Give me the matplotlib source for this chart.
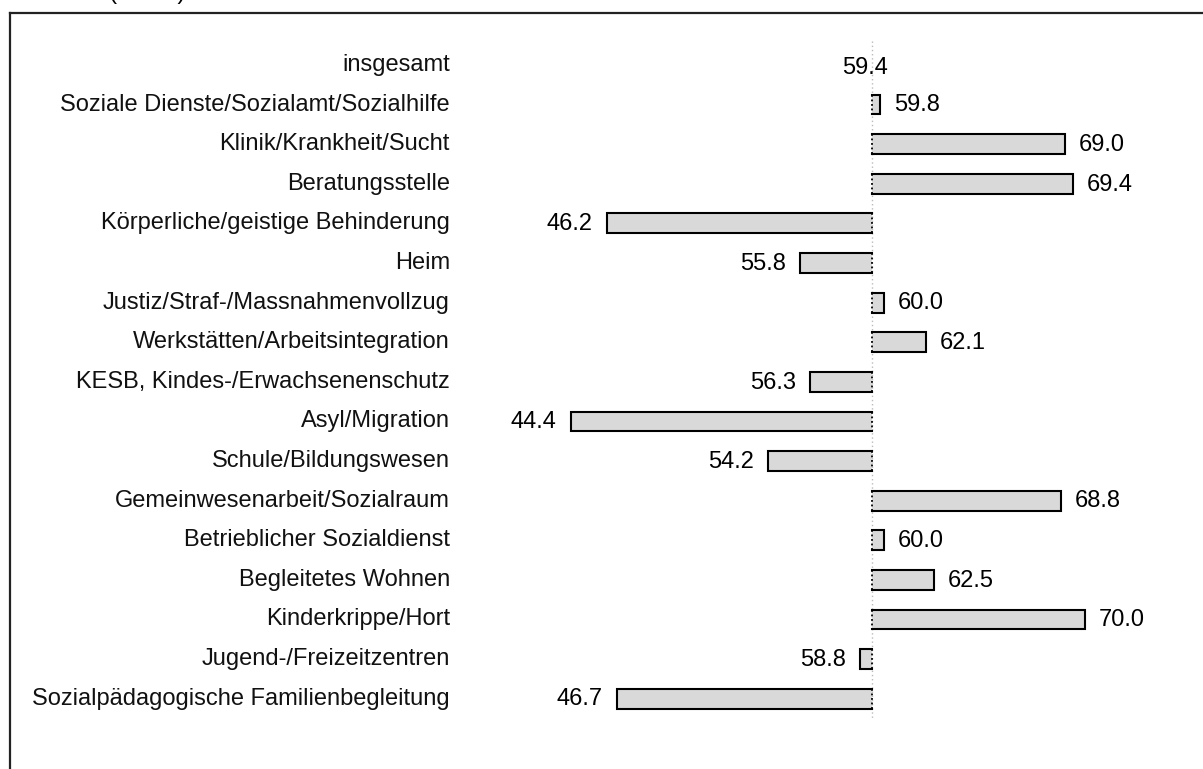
import matplotlib
matplotlib.use("Agg")
import matplotlib.pyplot as plt

categories = [
    "insgesamt",
    "Soziale Dienste/Sozialamt/Sozialhilfe",
    "Klinik/Krankheit/Sucht",
    "Beratungsstelle",
    "Körperliche/geistige Behinderung",
    "Heim",
    "Justiz/Straf-/Massnahmenvollzug",
    "Werkstätten/Arbeitsintegration",
    "KESB, Kindes-/Erwachsenenschutz",
    "Asyl/Migration",
    "Schule/Bildungswesen",
    "Gemeinwesenarbeit/Sozialraum",
    "Betrieblicher Sozialdienst",
    "Begleitetes Wohnen",
    "Kinderkrippe/Hort",
    "Jugend-/Freizeitzentren",
    "Sozialpädagogische Familienbegleitung",
]
values = [59.4, 59.8, 69.0, 69.4, 46.2, 55.8, 60.0, 62.1, 56.3, 44.4, 54.2,
          68.8, 60.0, 62.5, 70.0, 58.8, 46.7]
reference = 59.4

plt.rcParams['font.family'] = ['Liberation Sans', 'DejaVu Sans']
FS = 17

W, H = 1203, 769
fig = plt.figure(figsize=(W / 100, H / 100), dpi=100)

# axes placed in pixel terms; frame runs off right and bottom edges
ax_left_px, ax_right_px = 10, 1230
ax_top_px, ax_bot_px = 13, 800
ax = fig.add_axes([ax_left_px / W, 1 - ax_bot_px / H,
                   (ax_right_px - ax_left_px) / W, (ax_bot_px - ax_top_px) / H])

ref_px, px_per_unit = 872, 20.08
ax.set_xlim(reference + (ax_left_px - ref_px) / px_per_unit,
            reference + (ax_right_px - ref_px) / px_per_unit)
row0_px, row_step = 65, 39.6
ax.set_ylim((ax_bot_px - row0_px) / row_step, (ax_top_px - row0_px) / row_step)

for s in ['right', 'bottom']:
    ax.spines[s].set_visible(False)
for s in ['left', 'top']:
    ax.spines[s].set_linewidth(1.6)
    ax.spines[s].set_color('#222222')
ax.set_xticks([])
ax.set_yticks([])

n = len(categories)
ax.plot([reference, reference], [-0.6, n - 0.5], ls=(0, (1, 2)), color='#bbbbbb', lw=1.0, zorder=1)

bh = 0.5
label_x = reference + (450 - ref_px) / px_per_unit
gap = 14 / px_per_unit
for i, (cat, v) in enumerate(zip(categories, values)):
    ax.text(label_x, i, cat, ha='right', va='center', fontsize=FS, color='#111111')
    d = v - reference
    if i == 0:
        ax.text(reference - 7 / px_per_unit, i + 0.08, f"{v:.1f}", ha='center', va='center', fontsize=FS)
        continue
    ax.barh(i, d, left=reference, height=bh, color='#d9d9d9', edgecolor='none', zorder=2)
    y0, y1 = i - bh / 2, i + bh / 2
    ax.plot([reference, v, v, reference], [y0, y0, y1, y1], color='black', lw=1.5, zorder=3,
            solid_joinstyle='miter')
    ax.plot([reference, reference], [y0, y1], color='black', lw=1.3, ls=(0, (1, 1.5)), zorder=3)
    if d >= 0:
        ax.text(v + gap, i + 0.02, f"{v:.1f}", ha='left', va='center', fontsize=FS)
    else:
        ax.text(v - gap, i + 0.02, f"{v:.1f}", ha='right', va='center', fontsize=FS)

# partially cut-off heading at the very top (only the bottom of the brackets shows)
fig.text(185 / W, 1 + 1 / H, "Mittelwert (0-100)", ha='right', va='baseline', fontsize=FS)

fig.savefig("out.png", dpi=100)
